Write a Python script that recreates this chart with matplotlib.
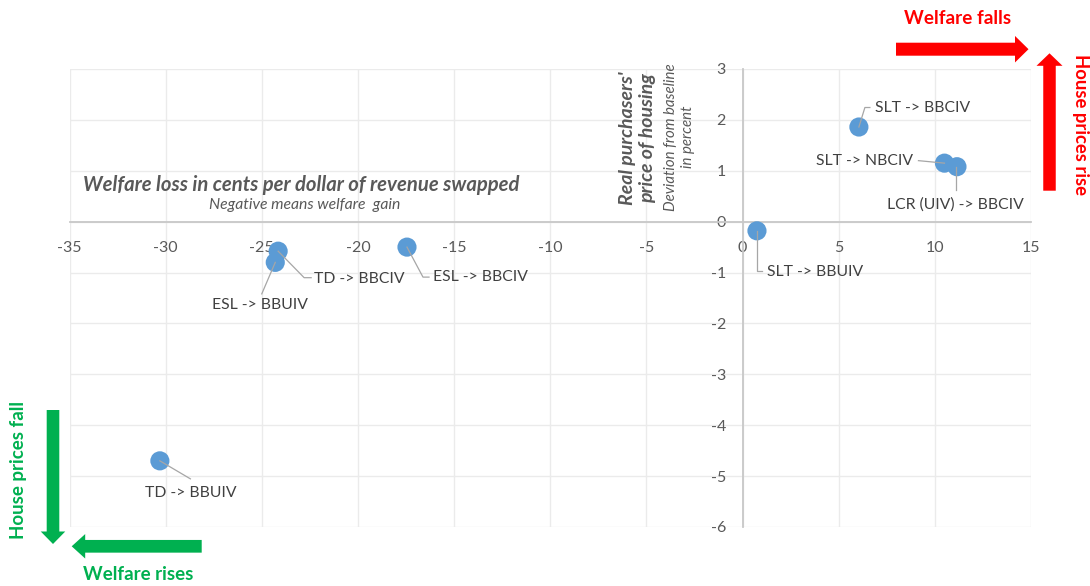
import matplotlib
matplotlib.use("Agg")
import matplotlib.pyplot as plt
from matplotlib.patches import FancyArrow
from matplotlib.transforms import IdentityTransform

plt.rcParams['font.family'] = ['Lato', 'DejaVu Sans']
plt.rcParams['axes.unicode_minus'] = False

# Swap scenarios: welfare loss (cents per dollar swapped) vs house price deviation (%)
scenarios = ["SLT -> BBCIV", "SLT -> NBCIV", "LCR (UIV) -> BBCIV", "SLT -> BBUIV",
             "ESL -> BBCIV", "TD -> BBCIV", "ESL -> BBUIV", "TD -> BBUIV"]
welfare_loss = [6.05, 10.5, 11.15, 0.75, -17.45, -24.15, -24.3, -30.3]
house_price = [1.86, 1.15, 1.08, -0.18, -0.50, -0.58, -0.80, -4.70]

x_ticks = list(range(-35, 16, 5))
y_ticks = list(range(-6, 4))

W, H = 1090, 586
fig = plt.figure(figsize=(W / 100, H / 100), dpi=100)

left_px, right_px, top_px, bottom_px = 69.5, 1031, 69, 527
ax = fig.add_axes([left_px / W, 1 - bottom_px / H,
                   (right_px - left_px) / W, (bottom_px - top_px) / H])
ax.set_xlim(-35, 15)
ax.set_ylim(-6, 3)
ax.set_xticks(x_ticks)
ax.set_yticks(y_ticks)
ax.grid(True, color='#EBEBEB', linewidth=1.0, zorder=0)
ax.set_axisbelow(True)

for s in ['top', 'right']:
    ax.spines[s].set_visible(False)
ax.spines['left'].set_position(('data', 0))
ax.spines['bottom'].set_position(('data', 0))
for s in ['left', 'bottom']:
    ax.spines[s].set_color('#C8C8C8')
    ax.spines[s].set_linewidth(1.3)
    ax.spines[s].set_zorder(1)

ax.tick_params(length=0, labelsize=11.5, labelcolor='#595959')
ax.tick_params(axis='x', pad=14)
ax.tick_params(axis='y', pad=12)

ax.scatter(welfare_loss, house_price, s=190, color='#5B9BD5', edgecolors='none', zorder=3)

# Label placement: text offset (px, screen-down positive), alignment, leader path offsets
label_layout = {
    "SLT -> BBCIV": ((16, -19), 'left', [(0, 0), (6, -19.5), (11, -19.5)]),
    "SLT -> NBCIV": ((-31, -2), 'right', [(0, 0), (-26, -2.5)]),
    "LCR (UIV) -> BBCIV": ((-2, 38), 'center', [(-1, 0), (-1, 23)]),
    "SLT -> BBUIV": ((10, 41), 'left', [(0, 0), (0, 40), (5, 40)]),
    "ESL -> BBCIV": ((26, 30), 'left', [(0, 0), (16, 30), (22, 30)]),
    "TD -> BBCIV": ((36, 28), 'left', [(0, 0), (26, 26.5), (33, 26.5)]),
    "ESL -> BBUIV": ((-15, 43), 'center', [(0, 0), (-13.5, 31.5)]),
    "TD -> BBUIV": ((31, 32), 'center', [(0, 0), (30.5, 18)]),
}

fig.canvas.draw()
for name, xv, yv in zip(scenarios, welfare_loss, house_price):
    (tdx, tdy), ha, path = label_layout[name]
    px, py = ax.transData.transform((xv, yv))
    xs = [px + dx for dx, dy in path]
    ys = [py - dy for dx, dy in path]
    fig.add_artist(plt.Line2D(xs, ys, transform=IdentityTransform(),
                              color='#A6A6A6', linewidth=0.9, zorder=5))
    ax.annotate(name, xy=(xv, yv), xytext=(tdx, -tdy), textcoords='offset pixels',
                ha=ha, va='center', fontsize=11.3, color='#404040', zorder=6)

# Axis titles placed inside the plot area
def fig_text(xp, yp, s, **kw):
    fig.text(xp / W, 1 - yp / H, s, ha='center', va='center', **kw)

fig_text(301, 185, "Welfare loss in cents per dollar of revenue swapped",
         fontsize=14.6, fontweight='bold', fontstyle='italic', color='#595959')
fig_text(305, 205, "Negative means welfare  gain",
         fontsize=11.3, fontstyle='italic', color='#595959')
fig_text(637.5, 138, "Real purchasers'\nprice of housing", rotation=90,
         fontsize=14, fontweight='bold', fontstyle='italic', color='#595959',
         linespacing=1.15)
fig_text(679.5, 137, "Deviation from baseline\nin percent", rotation=90,
         fontsize=10.8, fontstyle='italic', color='#595959', linespacing=1.2)

# Direction arrows (pixel coordinates, screen y converted)
def arrow(x0, y0, x1, y1, width, head_w, head_l, color):
    a = FancyArrow(x0, H - y0, x1 - x0, -(y1 - y0), width=width, head_width=head_w,
                   head_length=head_l, length_includes_head=True,
                   transform=IdentityTransform(), color=color, linewidth=0)
    fig.add_artist(a)

red = '#FF0000'
green = '#00B050'
arrow(896, 49.2, 1028.5, 49.2, 13, 26.5, 13.5, red)
arrow(1049.5, 190.7, 1049.5, 53.3, 12.5, 26, 12.5, red)
arrow(53, 410, 53, 544, 12.6, 24.5, 12.5, green)
arrow(201.7, 546.3, 71.7, 546.3, 12.7, 24.5, 13.5, green)

fig_text(958, 18.5, "Welfare falls", fontsize=13.6, fontweight='bold', color=red)
fig_text(1080, 124, "House prices rise", fontsize=13.3, fontweight='bold', color=red,
         rotation=-90)
fig_text(19, 470, "House prices fall", fontsize=13.5, fontweight='bold', color=green,
         rotation=90)
fig_text(138, 575, "Welfare rises", fontsize=13.5, fontweight='bold', color=green)

fig.savefig("out.png", dpi=100)
